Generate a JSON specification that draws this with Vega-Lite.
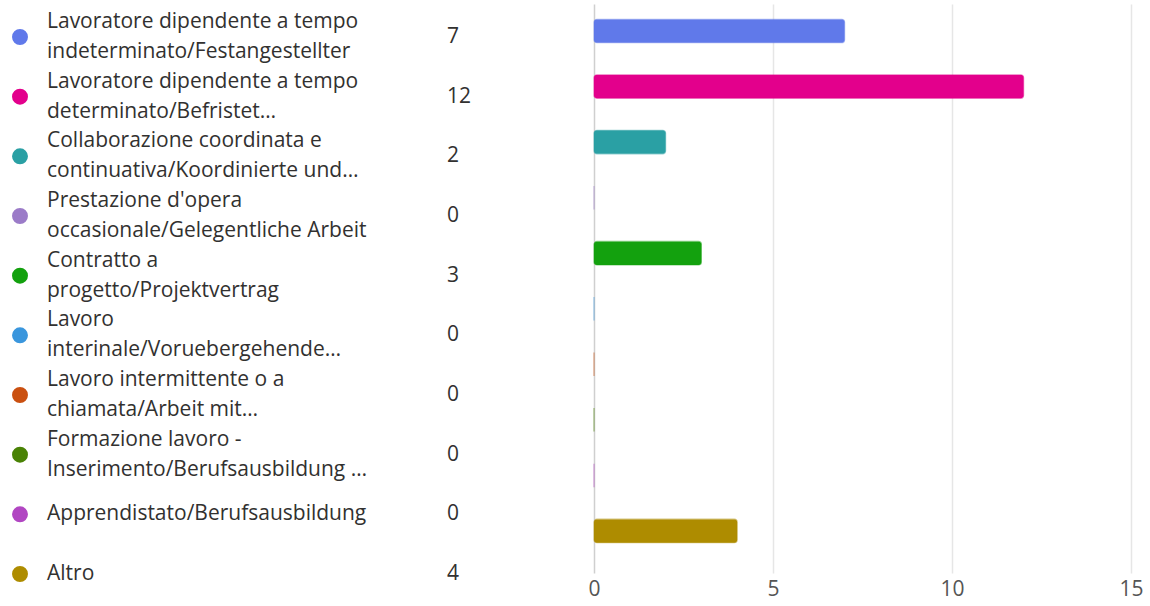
{
  "$schema": "https://vega.github.io/schema/vega-lite/v6.json",
  "padding": {"left": 0, "top": 4, "right": 0, "bottom": 0},
  "background": "white",
  "spacing": 0,
  "bounds": "flush",
  "config": {"view": {"stroke": null}, "font": "Open Sans"},
  "data": {"values": [
    {"label": "Lavoratore dipendente a tempo\nindeterminato/Festangestellter", "count": 7},
    {"label": "Lavoratore dipendente a tempo\ndeterminato/Befristet…", "count": 12},
    {"label": "Collaborazione coordinata e\ncontinuativa/Koordinierte und…", "count": 2},
    {"label": "Prestazione d'opera\noccasionale/Gelegentliche Arbeit", "count": 0},
    {"label": "Contratto a\nprogetto/Projektvertrag", "count": 3},
    {"label": "Lavoro\ninterinale/Voruebergehende…", "count": 0},
    {"label": "Lavoro intermittente o a\nchiamata/Arbeit mit…", "count": 0},
    {"label": "Formazione lavoro -\nInserimento/Berufsausbildung …", "count": 0},
    {"label": "Apprendistato/Berufsausbildung", "count": 0},
    {"label": "Altro", "count": 4}
  ]},
  "hconcat": [
    {
      "width": 594,
      "height": 603,
      "encoding": {
        "y": {"field": "label", "type": "nominal", "sort": null, "axis": null,
              "scale": {"type": "point", "padding": 0.553}}
      },
      "layer": [
        {
          "mark": {"type": "circle", "x": 20, "size": 254, "opacity": 1},
          "encoding": {
            "color": {"field": "label", "type": "nominal", "sort": null, "legend": null,
              "scale": {"range": ["#6079EA", "#E3008C", "#2AA0A4", "#9B7BC8", "#13A10E", "#3A96DD", "#CA5010", "#498205", "#B146C2", "#AE8C00"]}}
          }
        },
        {
          "transform": [{"filter": "indexof(datum.label, '\\n') >= 0"}],
          "mark": {"type": "text", "x": 47, "dy": -15, "align": "left", "baseline": "middle", "fontSize": 21, "lineHeight": 30, "lineBreak": "\n", "color": "#323130", "font": "Open Sans"},
          "encoding": {"text": {"field": "label", "type": "nominal"}}
        },
        {
          "transform": [{"filter": "indexof(datum.label, '\\n') < 0"}],
          "mark": {"type": "text", "x": 47, "align": "left", "baseline": "middle", "fontSize": 21, "color": "#323130", "font": "Open Sans"},
          "encoding": {"text": {"field": "label", "type": "nominal"}}
        },
        {
          "mark": {"type": "text", "x": 447, "align": "left", "baseline": "middle", "fontSize": 21, "color": "#323130", "font": "Open Sans"},
          "encoding": {"text": {"field": "count", "type": "quantitative"}}
        }
      ]
    },
    {
      "width": 537,
      "height": 569,
      "mark": {"type": "bar", "cornerRadius": 3, "strokeWidth": 1.2, "strokeOpacity": 0.5},
      "encoding": {
        "y": {"field": "label", "type": "nominal", "sort": null, "axis": null,
              "scale": {"paddingInner": 0.577, "paddingOuter": 0.41, "align": 0.335}},
        "x": {"field": "count", "type": "quantitative",
              "scale": {"domain": [0, 15], "nice": false},
              "axis": {"values": [0, 5, 10, 15], "title": null, "domain": false, "ticks": false,
                       "grid": true, "gridWidth": 1.5, "labelFlush": false,
                       "gridColor": {"condition": {"test": "datum.value === 0", "value": "#cfcfcf"}, "value": "#e6e6e6"},
                       "labelFontSize": 21, "labelColor": "#555555", "labelFont": "Open Sans", "labelPadding": 5}},
        "color": {"field": "label", "type": "nominal", "sort": null, "legend": null,
          "scale": {"range": ["#6079EA", "#E3008C", "#2AA0A4", "#9B7BC8", "#13A10E", "#3A96DD", "#CA5010", "#498205", "#B146C2", "#AE8C00"]}},
        "stroke": {"field": "label", "type": "nominal", "sort": null, "legend": null,
          "scale": {"range": ["#6079EA", "#E3008C", "#2AA0A4", "#9B7BC8", "#13A10E", "#3A96DD", "#CA5010", "#498205", "#B146C2", "#AE8C00"]}}
      }
    }
  ]
}
